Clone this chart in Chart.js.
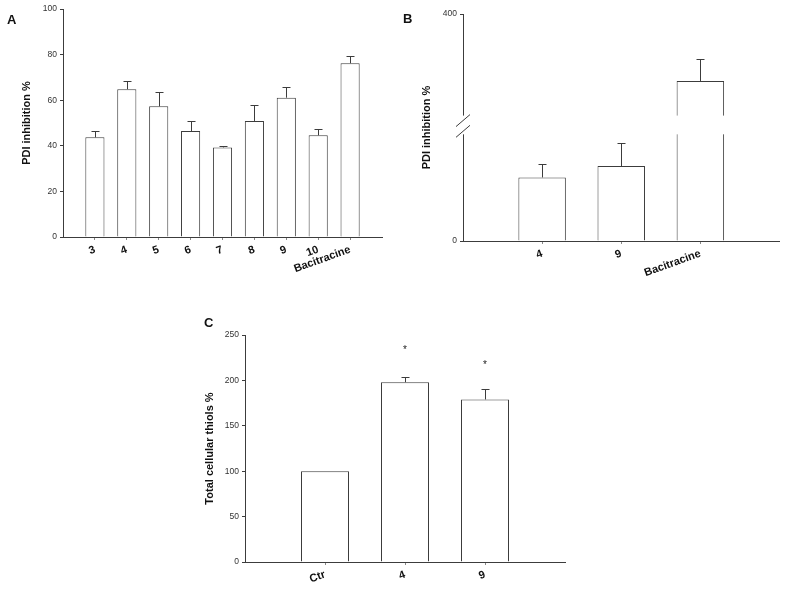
<!DOCTYPE html>
<html lang="en">
<head>
<meta charset="UTF-8">
<title>PDI inhibition and total cellular thiols</title>
<script src="https://cdn.jsdelivr.net/npm/chart.js@4.4.2/dist/chart.umd.min.js"></script>
<style>
  body { margin: 0; background: #fff; font-family: 'Liberation Sans', Arial, sans-serif; }
  #page { position: relative; width: 787px; height: 590px; }
  canvas { position: absolute; }
  .panel-tag { position: absolute; font-weight: bold; font-size: 13px; color: #111; }
</style>
</head>
<body>
<div id="page">
  <canvas id="chartA" width="400" height="295" style="left:0;top:0"></canvas>
  <canvas id="chartB" width="387" height="295" style="left:400px;top:0"></canvas>
  <canvas id="chartC" width="400" height="290" style="left:180px;top:300px"></canvas>
  <div class="panel-tag" style="left:7px;top:12px">A</div>
  <div class="panel-tag" style="left:403px;top:11px">B</div>
  <div class="panel-tag" style="left:204px;top:315px">C</div>
</div>

<script>
// --- Panel A: PDI inhibition by compound ---
const labelsA = ['3', '4', '5', '6', '7', '8', '9', '10', 'Bacitracine'];
const valuesA = [43.7, 64.8, 57.3, 46.5, 39.3, 50.9, 61.1, 44.6, 76.2];
const errorsA = [2.9, 3.5, 6.3, 4.2, 0.7, 7.0, 4.5, 2.6, 3.3];

// --- Panel B: broken y axis (values read as if the axis were linear) ---
const labelsB = ['4', '9', 'Bacitracine'];
const valuesB = [112, 132, 282];
const errorsB = [23, 41, 39];
const breakB = [188, 221];   // value range hidden by the axis break

// --- Panel C: total cellular thiols ---
const labelsC = ['Ctr', '4', '9'];
const valuesC = [100, 198, 179];
const errorsC = [0, 6, 12];
const starsC = [null, 235, 219];

const INK = '#3c3c3c';
const FONT = "'Liberation Sans', Arial, sans-serif";

// empty category on each side so the bars sit one slot in from the axis ends
const pad = arr => [null, ...arr, null];

// upward-only error bars with a small cap
const errorBarPlugin = {
    id: 'errorBars',
    afterDatasetsDraw(chart, args, opts) {
        const { ctx, scales: { y } } = chart;
        const meta = chart.getDatasetMeta(0);
        const data = chart.data.datasets[0].data;
        ctx.save();
        ctx.strokeStyle = INK;
        ctx.lineWidth = 1;
        (opts.errors || []).forEach((e, i) => {
            const v = data[i];
            if (v == null || !e) return;
            const bx = Math.round(meta.data[i].x) + 0.5;
            const y0 = y.getPixelForValue(v);
            const y1 = Math.round(y.getPixelForValue(v + e)) + 0.5;
            ctx.beginPath();
            ctx.moveTo(bx, y0);
            ctx.lineTo(bx, y1);
            ctx.moveTo(bx - 4, y1);
            ctx.lineTo(bx + 4, y1);
            ctx.stroke();
        });
        // significance stars
        (opts.stars || []).forEach((s, i) => {
            if (s == null) return;
            ctx.fillStyle = '#222';
            ctx.font = '10px ' + FONT;
            ctx.textAlign = 'center';
            ctx.textBaseline = 'middle';
            ctx.fillText('*', meta.data[i].x, y.getPixelForValue(s) + 2);
        });
        ctx.restore();
    }
};

// white gap + slashes for the broken axis
const axisBreakPlugin = {
    id: 'axisBreak',
    afterDraw(chart, args, opts) {
        if (!opts.range) return;
        const { ctx, scales: { x, y } } = chart;
        const yLow = y.getPixelForValue(opts.range[0]);
        const yHigh = y.getPixelForValue(opts.range[1]);
        const ax = x.left;
        ctx.save();
        ctx.fillStyle = '#fff';
        ctx.fillRect(ax - 3, yHigh, chart.chartArea.right - ax + 3, yLow - yHigh);
        ctx.strokeStyle = INK;
        ctx.lineWidth = 1;
        [yHigh + 5, yLow - 3].forEach(cy => {
            ctx.beginPath();
            ctx.moveTo(ax - 7, cy + 6);
            ctx.lineTo(ax + 7, cy - 6);
            ctx.stroke();
        });
        ctx.restore();
    }
};

function makeBarChart(id, cfg) {
    const n = cfg.labels.length + 2;
    return new Chart(document.getElementById(id), {
        type: 'bar',
        data: {
            labels: ['', ...cfg.labels, ''],
            datasets: [{
                data: pad(cfg.values),
                backgroundColor: '#fff',
                borderColor: INK,
                borderWidth: 1,
                categoryPercentage: 1,
                barPercentage: 0.6
            }]
        },
        options: {
            responsive: false,
            animation: false,
            devicePixelRatio: 1,
            layout: { padding: cfg.padding },
            plugins: {
                legend: { display: false },
                tooltip: { enabled: false },
                errorBars: { errors: pad(cfg.errors), stars: cfg.stars ? pad(cfg.stars) : [] },
                axisBreak: { range: cfg.breakRange || null }
            },
            scales: {
                x: {
                    offset: false,
                    grid: {
                        offset: false,
                        drawOnChartArea: false,
                        drawTicks: true,
                        tickLength: 3,
                        tickColor: c => (c.index === 0 || c.index === n - 1) ? 'rgba(0,0,0,0)' : '#888'
                    },
                    border: { display: true, color: INK, width: 1 },
                    ticks: {
                        autoSkip: false,
                        minRotation: 20,
                        maxRotation: 20,
                        padding: 3,
                        color: '#111',
                        font: { family: FONT, size: 11, weight: 'bold' }
                    },
                    afterFit(axis) { axis.height = cfg.xHeight; }
                },
                y: {
                    min: 0,
                    max: cfg.max,
                    grid: { drawOnChartArea: false, drawTicks: true, tickLength: 3, color: INK },
                    border: { display: true, color: INK, width: 1 },
                    ticks: {
                        stepSize: cfg.step,
                        padding: 3,
                        color: '#333',
                        font: { family: FONT, size: 8.5 }
                    },
                    title: {
                        display: true,
                        text: cfg.yTitle,
                        color: '#111',
                        padding: { top: cfg.titleOffset, bottom: 0 },
                        font: { family: FONT, size: 11, weight: 'bold' }
                    },
                    afterFit(axis) { axis.width = cfg.yWidth; }
                }
            }
        },
        plugins: [errorBarPlugin, axisBreakPlugin]
    });
}

makeBarChart('chartA', {
    labels: labelsA, values: valuesA, errors: errorsA,
    max: 100, step: 20, yTitle: 'PDI inhibition %',
    padding: { left: 0, top: 9, right: 18, bottom: 0 },
    yWidth: 63, xHeight: 58, titleOffset: 20
});

makeBarChart('chartB', {
    labels: labelsB, values: valuesB, errors: errorsB,
    max: 400, step: 400, yTitle: 'PDI inhibition %', breakRange: breakB,
    padding: { left: 0, top: 14, right: 7, bottom: 0 },
    yWidth: 63, xHeight: 54, titleOffset: 20
});

makeBarChart('chartC', {
    labels: labelsC, values: valuesC, errors: errorsC, stars: starsC,
    max: 250, step: 50, yTitle: 'Total cellular thiols %',
    padding: { left: 0, top: 35, right: 15, bottom: 0 },
    yWidth: 65, xHeight: 28, titleOffset: 23
});
</script>
</body>
</html>
